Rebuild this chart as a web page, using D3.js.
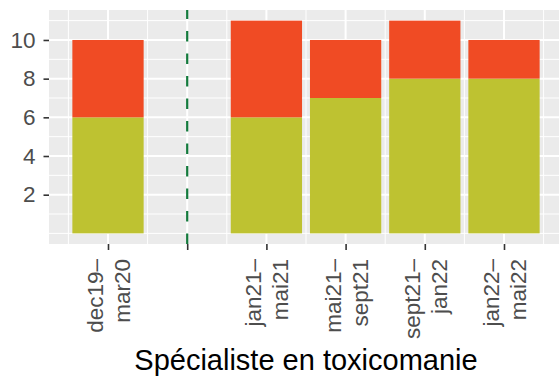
<!DOCTYPE html>
<html>
<head>
<meta charset="utf-8">
<script src="https://cdn.jsdelivr.net/npm/d3@7"></script>
<style>
  html, body { margin: 0; padding: 0; background: #fff; }
  svg { display: block; }
  text { font-family: "Liberation Sans", Arial, Helvetica, sans-serif; }
</style>
</head>
<body>
<svg id="chart" width="559" height="377"></svg>
<script>
// ---- data ----
const categories = ["dec19–\nmar20", "", "jan21–\nmai21", "mai21–\nsept21", "sept21–\njan22", "jan22–\nmai22"];
const greenValues = [6, 0, 6, 7, 8, 8];
const redValues = [4, 0, 5, 3, 3, 2];
const yTickValues = [2, 4, 6, 8, 10];
const yMinorValues = [0, 1, 3, 5, 7, 9, 11];
const dividerIndex = 1;
const xTitle = "Spécialiste en toxicomanie";

// ---- layout ----
const W = 559, H = 377;
const panel = { left: 49, top: 10, bottom: 244, right: 600 };
const colGreen = "#BEC231", colRed = "#F04B24", colDash = "#137A3C";

const svg = d3.select("#chart");

const x = d3.scaleLinear().domain([0, categories.length - 1]).range([108, 504]);
const step = x(1) - x(0);
const y = d3.scaleLinear().domain([-0.55, 11.55]).range([panel.bottom, panel.top]);

// panel background
svg.append("rect")
  .attr("x", panel.left).attr("y", panel.top)
  .attr("width", panel.right - panel.left).attr("height", panel.bottom - panel.top)
  .attr("fill", "#EBEBEB");

const grid = svg.append("g");
grid.selectAll(".ymin").data(yMinorValues).join("line")
  .attr("x1", panel.left).attr("x2", panel.right)
  .attr("y1", d => y(d)).attr("y2", d => y(d))
  .attr("stroke", "#fff").attr("stroke-width", 1);
grid.selectAll(".ymaj").data(yTickValues).join("line")
  .attr("x1", panel.left).attr("x2", panel.right)
  .attr("y1", d => y(d)).attr("y2", d => y(d))
  .attr("stroke", "#fff").attr("stroke-width", 2);
const xIdx = d3.range(-1, categories.length + 1);
grid.selectAll(".xmin").data(xIdx).join("line")
  .attr("x1", d => x(d + 0.5)).attr("x2", d => x(d + 0.5))
  .attr("y1", panel.top).attr("y2", panel.bottom)
  .attr("stroke", "#fff").attr("stroke-width", 1);
grid.selectAll(".xmaj").data(xIdx.filter(d => d >= 0)).join("line")
  .attr("x1", d => x(d)).attr("x2", d => x(d))
  .attr("y1", panel.top).attr("y2", panel.bottom)
  .attr("stroke", "#fff").attr("stroke-width", 2);

// bars
const bw = step * 0.9;
const barData = categories.map((c, i) => ({ i, g: greenValues[i], r: redValues[i] }));
svg.append("g").selectAll("rect").data(barData.filter(d => d.g > 0)).join("rect")
  .attr("x", d => x(d.i) - bw / 2).attr("width", bw)
  .attr("y", d => y(d.g)).attr("height", d => y(0) - y(d.g))
  .attr("fill", colGreen);
svg.append("g").selectAll("rect").data(barData.filter(d => d.r > 0)).join("rect")
  .attr("x", d => x(d.i) - bw / 2).attr("width", bw)
  .attr("y", d => y(d.g + d.r)).attr("height", d => y(d.g) - y(d.g + d.r))
  .attr("fill", colRed);

// dashed divider (drawn bottom to top)
svg.append("line")
  .attr("x1", x(dividerIndex)).attr("x2", x(dividerIndex))
  .attr("y1", panel.bottom).attr("y2", panel.top)
  .attr("stroke", colDash).attr("stroke-width", 2.2)
  .attr("stroke-dasharray", "10.5,12");

// y axis
const yAxis = svg.append("g").attr("transform", `translate(${panel.left},0)`)
  .call(d3.axisLeft(y).tickValues(yTickValues).tickSize(5.5).tickPadding(8));
yAxis.select(".domain").remove();
yAxis.selectAll(".tick line").attr("stroke", "#333").attr("stroke-width", 1.6);
yAxis.selectAll(".tick text").attr("fill", "#4D4D4D").style("font-size", "22.5px")
  .attr("font-family", null);

// x axis
const xAxis = svg.append("g").attr("transform", `translate(0,${panel.bottom})`)
  .call(d3.axisBottom(x).tickValues(d3.range(categories.length)).tickSize(6).tickFormat(() => ""));
xAxis.select(".domain").remove();
xAxis.selectAll(".tick line").attr("stroke", "#333").attr("stroke-width", 1.6);
xAxis.selectAll(".tick text").remove();
xAxis.selectAll(".tick").each(function(d) {
  const lines = categories[d] ? categories[d].split("\n") : [];
  const t = d3.select(this).append("text")
    .attr("transform", "translate(0,15) rotate(-90)")
    .attr("text-anchor", "end")
    .attr("fill", "#4D4D4D")
    .style("font-size", "22.5px");
  lines.forEach((ln, k) => {
    t.append("tspan").attr("x", 0).attr("y", k === 0 ? -5.5 : 21.5).text(ln);
  });
});

// x title
svg.append("text")
  .attr("x", 306).attr("y", 370)
  .attr("text-anchor", "middle")
  .attr("fill", "#000")
  .style("font-size", "29px")
  .text(xTitle);
</script>
</body>
</html>
